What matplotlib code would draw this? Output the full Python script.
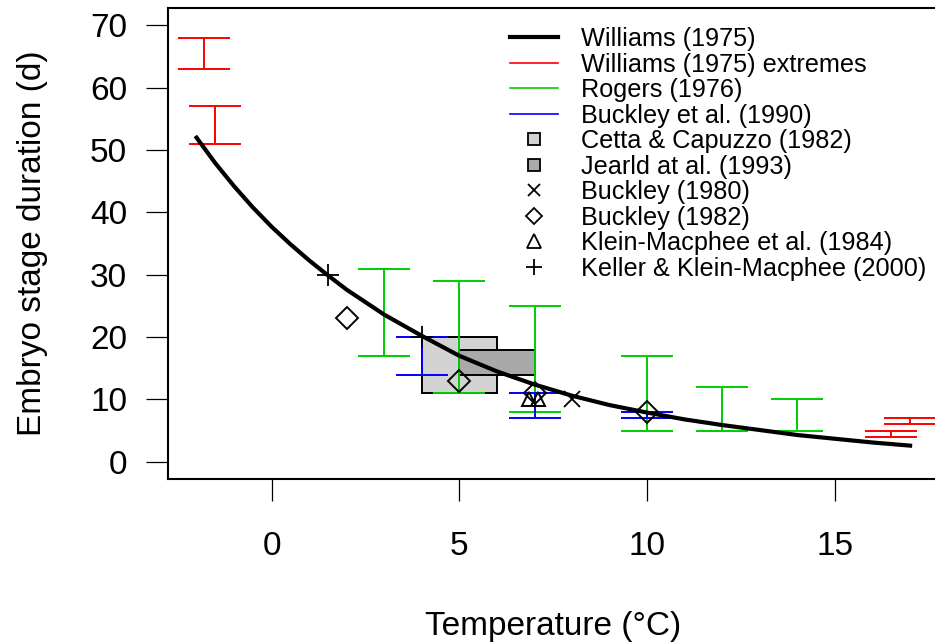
import numpy as np
import matplotlib.pyplot as plt
from matplotlib.lines import Line2D
from matplotlib.patches import Rectangle

plt.rcParams['font.family'] = ['Liberation Sans', 'DejaVu Sans']

# Williams (1975) temperature-duration curve
will_t = [-2, -1.5, -1, -0.5, 0, 0.5, 1, 1.5, 2, 3, 4, 5, 6, 7, 8, 9, 10,
          11, 12, 13, 14, 15, 16, 17]
will_d = [52, 47.9, 44.2, 40.8, 37.7, 34.9, 32.3, 29.9, 27.6, 23.6, 20.2,
          17, 14.5, 12.4, 10.6, 9.1, 7.9, 6.8, 5.9, 5.1, 4.3, 3.7, 3.1, 2.6]

# Williams (1975) extremes, min/max duration
ext_t = [-1.8, -1.5, 16.5, 17]
ext_lo = [63, 51, 4, 6]
ext_hi = [68, 57, 5, 7]

# Rogers (1976)
rog_t = [3, 5, 7, 10, 12, 14]
rog_lo = [17, 11, 8, 5, 5, 5]
rog_hi = [31, 29, 25, 17, 12, 10]

# Buckley et al. (1990)
b90_t = [4, 7, 10]
b90_lo = [14, 7, 7]
b90_hi = [20, 11, 8]

# Cetta & Capuzzo (1982) and Jearld et al. (1993): temperature and duration ranges
cetta_t = [4, 6]
cetta_d = [11, 20]
jearld_t = [5, 7]
jearld_d = [14, 18]

# single observations
b80_t = [8]
b80_d = [10]
b82_t = [2, 5, 7, 10]
b82_d = [23, 13, 11, 8]
klein_t = [6.85, 7.1]
klein_d = [10, 10]
keller_t = [1.5, 4]
keller_d = [30, 20]

RED = '#FF0000'
GREEN = '#00CD00'
BLUE = '#0000FF'
LIGHT = '#D3D3D3'
DARK = '#A9A9A9'

fig = plt.figure(figsize=(9.35, 6.43), dpi=100)
ax = fig.add_axes([0.1797, 0.2546, 0.8242, 0.733])

ax.add_patch(Rectangle((cetta_t[0], cetta_d[0]), cetta_t[1] - cetta_t[0],
                       cetta_d[1] - cetta_d[0], facecolor=LIGHT,
                       edgecolor='black', lw=1.4, zorder=1))
ax.add_patch(Rectangle((jearld_t[0], jearld_d[0]), jearld_t[1] - jearld_t[0],
                       jearld_d[1] - jearld_d[0], facecolor=DARK,
                       edgecolor='black', lw=1.4, zorder=1))


def ranges(t, lo, hi, col):
    lo = np.array(lo)
    hi = np.array(hi)
    ax.errorbar(t, lo, yerr=[np.zeros_like(lo), hi - lo], fmt='none',
                ecolor=col, elinewidth=1.4, capsize=18.5, capthick=1.4,
                zorder=2)


ranges(ext_t, ext_lo, ext_hi, RED)
ranges(rog_t, rog_lo, rog_hi, GREEN)
ranges(b90_t, b90_lo, b90_hi, BLUE)

ax.plot(will_t, will_d, color='black', lw=3, zorder=3, solid_joinstyle='round')

ax.plot(b80_t, b80_d, 'x', color='black', ms=11.5, mew=1.3, zorder=4)
ax.plot(b82_t, b82_d, 'D', mfc='none', mec='black', ms=11.5, mew=1.4, zorder=4)
ax.plot(klein_t, klein_d, '^', mfc='none', mec='black', ms=9.5, mew=1.4, zorder=4)
ax.plot(keller_t, keller_d, '+', color='black', ms=16, mew=1.3, zorder=4)

ax.set_xlim(-2.76, 17.76)
ax.set_ylim(-2.8, 72.8)
ax.set_xticks([0, 5, 10, 15])
ax.set_yticks(range(0, 71, 10))
for s in ax.spines.values():
    s.set_linewidth(1.5)
ax.tick_params(axis='both', labelsize=24, length=15.5, width=0.9)
ax.tick_params(axis='x', pad=22)
ax.tick_params(axis='y', pad=14)
ax.set_xlabel('Temperature (°C)', fontsize=24, labelpad=35)
ax.set_ylabel('Embryo stage duration (d)', fontsize=24, labelpad=30)

handles = [
    Line2D([], [], color='black', lw=3),
    Line2D([], [], color=RED, lw=1.2),
    Line2D([], [], color=GREEN, lw=1.2),
    Line2D([], [], color=BLUE, lw=1.2),
    Line2D([], [], ls='none', marker='s', ms=8.4, mfc=LIGHT, mec='black', mew=1.3),
    Line2D([], [], ls='none', marker='s', ms=8.4, mfc=DARK, mec='black', mew=1.3),
    Line2D([], [], ls='none', marker='x', ms=8.2, color='black', mew=1.3),
    Line2D([], [], ls='none', marker='D', ms=8.5, mfc='none', mec='black', mew=1.3),
    Line2D([], [], ls='none', marker='^', ms=9.5, mfc='none', mec='black', mew=1.3),
    Line2D([], [], ls='none', marker='+', ms=11.5, color='black', mew=1.3),
]
labels = ['Williams (1975)', 'Williams (1975) extremes', 'Rogers (1976)',
          'Buckley et al. (1990)', 'Cetta & Capuzzo (1982)',
          'Jearld at al. (1993)', 'Buckley (1980)', 'Buckley (1982)',
          'Klein-Macphee et al. (1984)', 'Keller & Klein-Macphee (2000)']
fig.legend(handles, labels, loc='upper left',
           bbox_to_anchor=(510 / 935, 1 - 27 / 643), frameon=False,
           fontsize=18.2, handlelength=1.9, handletextpad=0.9,
           labelspacing=0.06, borderpad=0, borderaxespad=0)

fig.savefig('out.png', dpi=100)
